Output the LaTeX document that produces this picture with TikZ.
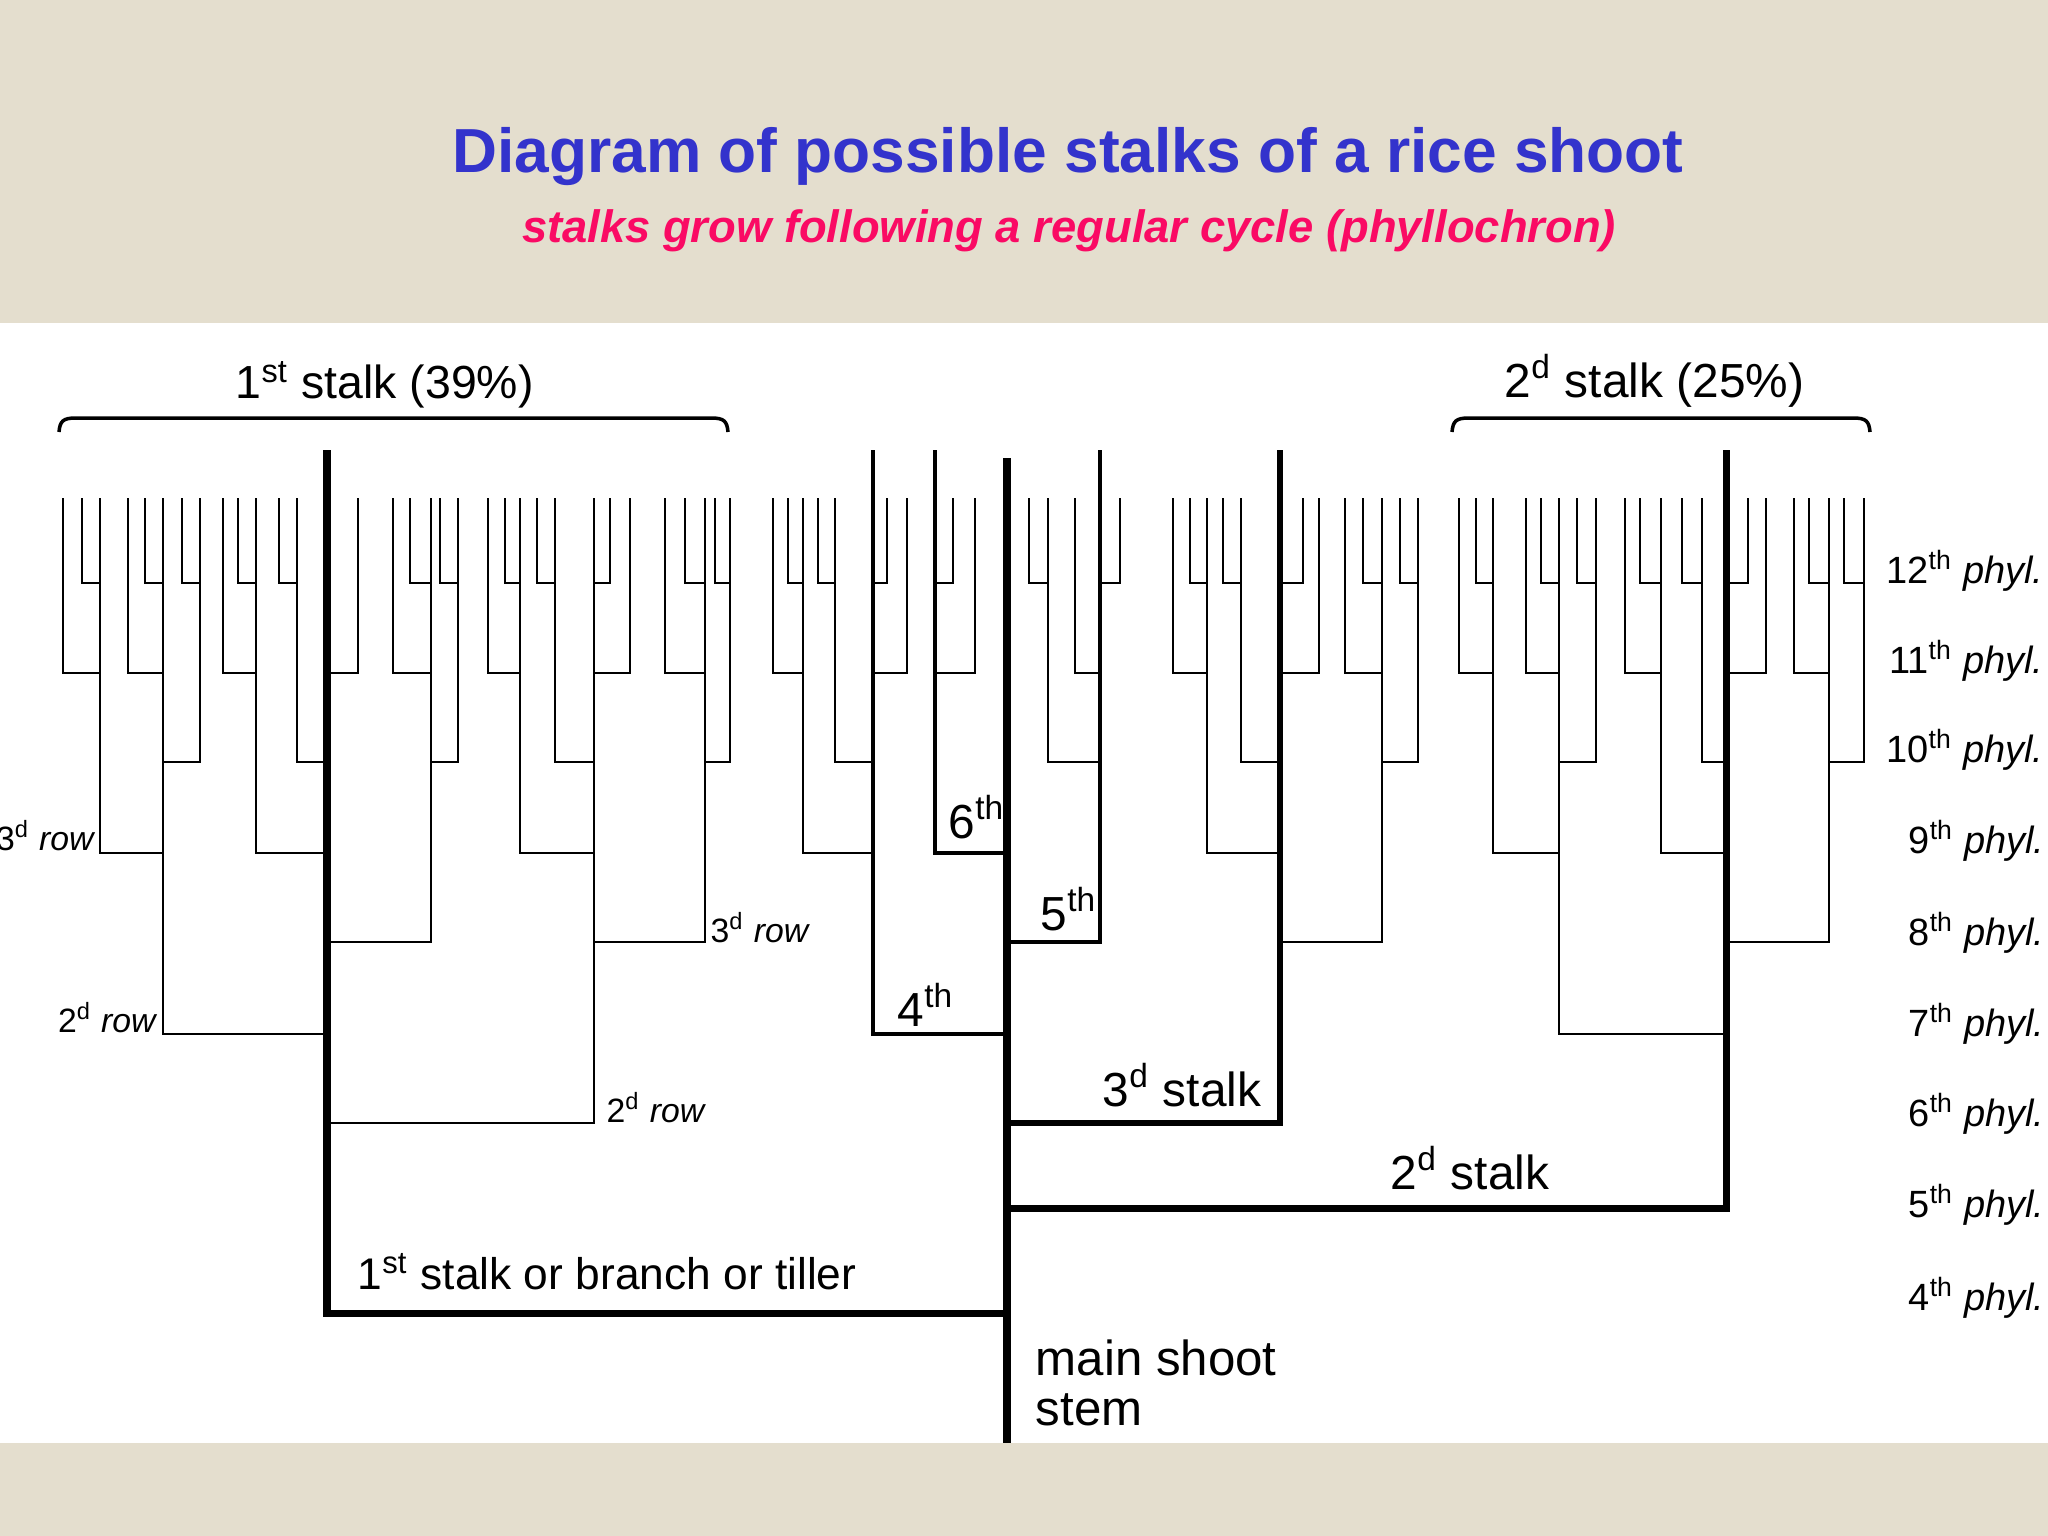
\documentclass[tikz,border=0pt]{standalone}
\usepackage{fontspec}
\setmainfont{Liberation Sans}
\setsansfont{Liberation Sans}
\definecolor{paper}{RGB}{228,222,206}
\definecolor{titleblue}{RGB}{51,51,204}
\definecolor{subred}{RGB}{250,10,100}
\begin{document}
\begin{tikzpicture}[x=0.01cm, y=-0.01cm, font=\sffamily,
	twig/.style={line width=0.7pt},
	tiller/.style={line width=1.3pt},
	stalk/.style={line width=2pt},
	lab/.style={inner sep=0pt, font=\sffamily\fontsize{13.6}{16}\selectfont},
	rowlab/.style={inner sep=0pt, font=\sffamily\fontsize{9.6}{11}\selectfont},
	phyl/.style={inner sep=0pt, font=\sffamily\fontsize{10.8}{13}\selectfont}]
	\useasboundingbox (0,0) rectangle (2048,1536);
	%background
	\fill[paper] (0,0) rectangle (2048,1536);
	\fill[white] (0,323) rectangle (2048,1443);
	%title
	\node[anchor=base, inner sep=0pt, text=titleblue, font=\sffamily\bfseries\fontsize{17.7}{21}\selectfont] (title) at (1068,172) {Diagram of possible stalks of a rice shoot};
	\node[anchor=base, inner sep=0pt, text=subred, font=\sffamily\bfseries\itshape\fontsize{12.9}{15}\selectfont] (subtitle) at (1069,242) {stalks grow following a regular cycle (phyllochron)};
	%braces
	\draw[line width=1pt] (59,432) .. controls (60,421) and (63,418) .. (76,418) -- (711,418) .. controls (724,418) and (727,421) .. (728,432);
	\draw[line width=1pt] (1452,432) .. controls (1453,421) and (1456,418) .. (1469,418) -- (1853,418) .. controls (1866,418) and (1869,421) .. (1870,432);
	\node[lab, anchor=base west, font=\sffamily\fontsize{13.2}{16}\selectfont] (stalkA) at (235,398) {1\textsuperscript{st} stalk (39\%)};
	\node[lab, anchor=base west, font=\sffamily\fontsize{13.6}{16}\selectfont] (stalkB) at (1504,397) {2\textsuperscript{d} stalk (25\%)};
	%higher rows: x / phyllochron level / parent x
	\foreach \x/\lev/\px in {594/1123/327, 163/1034/327, 431/942/327, 256/853/327, 297/762/327, 358/673/327,
		705/942/594, 520/853/594, 555/762/594, 630/673/594, 610/583/594,
		730/762/705, 715/583/730, 665/673/705, 685/583/705,
		488/673/520, 505/583/520, 537/583/555,
		100/853/163, 200/762/163, 182/583/200, 128/673/163, 145/583/163, 63/673/100, 82/583/100,
		458/762/431, 440/583/458, 393/673/431, 410/583/431,
		223/673/256, 238/583/256, 279/583/297,
		803/853/873, 773/673/803, 788/583/803, 835/762/873, 818/583/835, 907/673/873, 887/583/873,
		975/673/935, 953/583/935,
		1048/762/1100, 1029/583/1048, 1075/673/1100, 1120/583/1100,
		1382/942/1280, 1418/762/1382, 1400/583/1418, 1345/673/1382, 1363/583/1382,
		1207/853/1280, 1173/673/1207, 1190/583/1207, 1241/762/1280, 1223/583/1241, 1319/673/1280, 1303/583/1280,
		1559/1034/1726, 1493/853/1559, 1459/673/1493, 1476/583/1493, 1596/762/1559, 1577/583/1596, 1526/673/1559, 1541/583/1559,
		1829/942/1726, 1864/762/1829, 1844/583/1864, 1794/673/1829, 1809/583/1829,
		1661/853/1726, 1625/673/1661, 1640/583/1661, 1702/762/1726, 1682/583/1702, 1766/673/1726, 1748/583/1726}
	\draw[twig] (\x,498) |- (\px,\lev);
	%tillers of the main shoot
	\foreach \x/\lev in {873/1034, 1100/942, 935/853}
	\draw[tiller] (\x,450) |- (1007,\lev);
	\draw[line width=1.5pt] (1280,450) |- (1007,1123);
	\draw[stalk] (1726,450) |- (1007,1208);
	\draw[stalk] (327,450) |- (1007,1313);
	%main shoot
	\draw[line width=2.4pt] (1007,458) -- (1007,1443);
	%labels
	\node[lab, anchor=base west, font=\sffamily\fontsize{12.6}{15}\selectfont] (tillerA) at (357,1289) {1\textsuperscript{st} stalk or branch or tiller};
	\node[lab, anchor=base west] (tillerB) at (1390,1189) {2\textsuperscript{d} stalk};
	\node[lab, anchor=base east] (tillerC) at (1262,1106) {3\textsuperscript{d} stalk};
	\node[lab, anchor=base west] (tillerD) at (897,1026) {4\textsuperscript{th}};
	\node[lab, anchor=base west] (tillerE) at (1040,930) {5\textsuperscript{th}};
	\node[lab, anchor=base west] (tillerF) at (948,838) {6\textsuperscript{th}};
	\node[lab, anchor=base west, font=\sffamily\fontsize{14}{16}\selectfont] (mainA) at (1035,1375) {main shoot};
	\node[lab, anchor=base west, font=\sffamily\fontsize{14}{16}\selectfont] (mainB) at (1035,1425) {stem};
	\node[rowlab, anchor=base east] (rowA) at (96,850) {3\textsuperscript{d} \textit{row}};
	\node[rowlab, anchor=base east] (rowB) at (158,1032) {2\textsuperscript{d} \textit{row}};
	\node[rowlab, anchor=base west] (rowC) at (710,942) {3\textsuperscript{d} \textit{row}};
	\node[rowlab, anchor=base west] (rowD) at (606,1122) {2\textsuperscript{d} \textit{row}};
	%phyllochrons
	\foreach \n/\lev in {12/583, 11/673, 10/762}
	\node[phyl, anchor=base east] (phyl\n) at (2044,\lev) {\n\textsuperscript{th} \textit{phyl.}};
	\foreach \n/\lev in {9/853, 8/945, 7/1036, 6/1126, 5/1217, 4/1310}
	\node[phyl, anchor=base west] (phyl\n) at (1908,\lev) {\n\textsuperscript{th} \textit{phyl.}};
\end{tikzpicture}
\end{document}
